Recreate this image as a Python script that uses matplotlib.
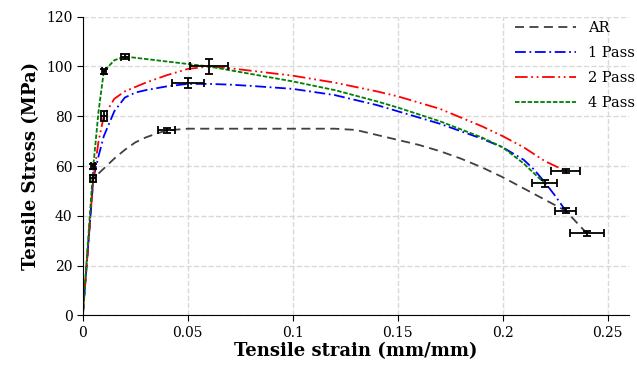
import matplotlib.pyplot as plt

plt.rcParams['font.family'] = ['DejaVu Serif']

# Криві напруження-деформація (точки)
ar_x = [0, 0.005, 0.01, 0.015, 0.02, 0.025, 0.03, 0.035, 0.04, 0.05, 0.07, 0.1, 0.12, 0.13,
        0.14, 0.15, 0.16, 0.17, 0.18, 0.19, 0.2, 0.21, 0.22, 0.23, 0.24]
ar_y = [0, 55, 59, 63, 66.5, 69.5, 71.5, 73, 74.3, 75, 75, 75, 75, 74.5,
        72.5, 70.5, 68.5, 66, 63, 59.5, 55.5, 51, 46.5, 42, 33]

p1_x = [0, 0.005, 0.0075, 0.01, 0.015, 0.02, 0.025, 0.03, 0.04, 0.05, 0.06, 0.07, 0.08, 0.1,
        0.12, 0.14, 0.15, 0.17, 0.19, 0.2, 0.21, 0.215, 0.22, 0.225, 0.23]
p1_y = [0, 55, 64, 72, 82, 87.5, 89.5, 90.5, 92, 93, 93, 92.7, 92.2, 91,
        88.5, 84.5, 82, 77, 71, 67.5, 62.5, 58.5, 53.5, 48, 42]

p2_x = [0, 0.005, 0.0075, 0.01, 0.015, 0.02, 0.03, 0.04, 0.05, 0.06, 0.07, 0.08, 0.1,
        0.12, 0.14, 0.15, 0.17, 0.19, 0.2, 0.21, 0.22, 0.23]
p2_y = [0, 55, 70, 80, 87, 90, 93.5, 96.5, 99, 100, 99.3, 98.3, 96.3,
        93.5, 90, 88, 83, 76, 72, 67.5, 62, 58]

p4_x = [0, 0.005, 0.0075, 0.01, 0.015, 0.02, 0.03, 0.04, 0.05, 0.06, 0.08, 0.1, 0.12,
        0.14, 0.15, 0.17, 0.19, 0.2, 0.21, 0.22]
p4_y = [0, 60, 82, 98, 102.5, 104, 103, 102, 101, 100, 97, 94, 90.5,
        86, 83.5, 78, 71.5, 67.5, 61, 53]

# Планки похибок: x, y, xerr, yerr
err_x = [0.005, 0.04, 0.23, 0.24, 0.05, 0.01, 0.23, 0.005, 0.01, 0.02, 0.06, 0.22]
err_y = [55, 74.3, 42, 33, 93.5, 80, 58, 60, 98, 104, 100, 53]
err_xe = [0.0015, 0.004, 0.005, 0.008, 0.0077, 0.0015, 0.007, 0.001, 0.001, 0.002, 0.009, 0.006]
err_ye = [1.5, 1, 1, 1, 2, 2, 1, 1, 1, 1, 3, 1.5]

fig, ax = plt.subplots(figsize=(6.37, 3.71), dpi=100)
fig.subplots_adjust(left=0.13, right=0.987, bottom=0.15, top=0.955)

ax.plot(ar_x, ar_y, color='#404040', linestyle=(0, (5, 3)), lw=1.3, label='AR')
ax.plot(p1_x, p1_y, color='blue', linestyle=(0, (6, 2, 1, 2)), lw=1.3, label='1 Pass')
ax.plot(p2_x, p2_y, color='red', linestyle=(0, (7, 2, 1, 2, 1, 2)), lw=1.3, label='2 Pass')
ax.plot(p4_x, p4_y, color='green', linestyle=(0, (2.5, 1)), lw=1.3, label='4 Pass')

ax.errorbar(err_x, err_y, xerr=err_xe, yerr=err_ye, fmt='none', ecolor='black',
            elinewidth=1.3, capsize=3, capthick=1.3, zorder=5)

ax.set_xlim(0, 0.26)
ax.set_ylim(0, 120)
ax.set_xticks([0, 0.05, 0.1, 0.15, 0.2, 0.25])
ax.set_xticklabels(['0', '0.05', '0.1', '0.15', '0.2', '0.25'])
ax.set_yticks(range(0, 121, 20))
ax.tick_params(labelsize=10, length=4)
ax.grid(True, linestyle='--', color='#d9d9d9', lw=1)
ax.set_axisbelow(True)
for s in ['top', 'right']:
    ax.spines[s].set_visible(False)

ax.set_xlabel('Tensile strain (mm/mm)', fontsize=13, fontweight='bold', labelpad=2)
ax.set_ylabel('Tensile Stress (MPa)', fontsize=13, fontweight='bold')

ax.legend(loc='upper right', frameon=False, fontsize=10.5, handlelength=4.2,
          labelspacing=0.75, bbox_to_anchor=(1.035, 1.03))

plt.savefig('out.png')
